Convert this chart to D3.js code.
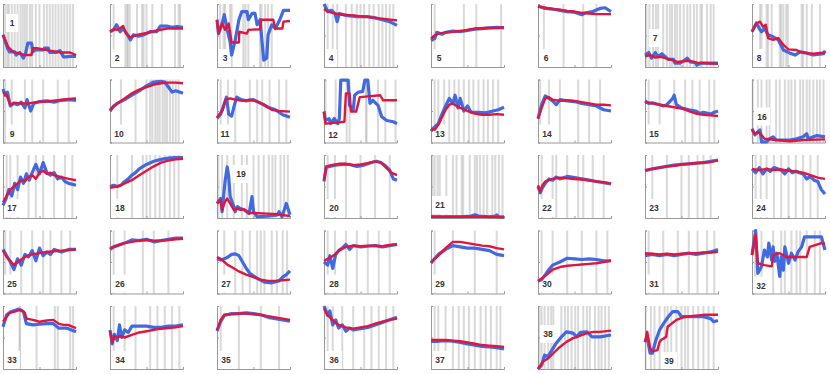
<!DOCTYPE html>
<html>
<head>
<meta charset="utf-8">
<script src="https://cdn.jsdelivr.net/npm/d3@7"></script>
<style>
  body { margin: 0; background: #fff; }
  svg { display: block; }
</style>
</head>
<body>
<div id="chart"></div>
<script>
// small multiples: blue vs red trace per panel, gray ticks = events
const width = 830;
const height = 374;
const cols = 8;
const cellW = 107, cellH = 75.5;
const plotW = 73, plotH = 63;
const origin = {left: 3, top: 4};

const panelIds = [1,2,3,4,5,6,7,8,9,10,11,12,13,14,15,16,17,18,19,20,
  21,22,23,24,25,26,27,28,29,30,31,32,33,34,35,36,37,38,39];

// flat lists: x0,y0, x1,y1, ... (x and y both 0..100)
const blueSeries = [
  [0,51, 6,30, 9,24, 16,24, 18,19, 23,23, 28,14, 31,22, 34,38, 39,38, 41,24, 44,27, 55,27, 57,30, 62,30, 64,23, 73,23, 78,26, 83,16, 87,16, 92,17, 100,17],
  [0,56, 5,59, 9,67, 14,56, 18,61, 23,53, 28,43, 32,51, 39,49, 46,51, 55,56, 64,56, 69,65, 78,65, 85,63, 92,64, 100,63],
  [0,75, 2,53, 7,69, 10,83, 14,59, 18,40, 20,19, 25,43, 30,75, 34,88, 41,88, 43,75, 48,85, 52,85, 55,67, 59,75, 64,11, 68,14, 70,51, 75,67, 80,61, 86,75, 91,90, 100,90],
  [0,100, 5,88, 10,90, 15,85, 18,72, 21,85, 30,82, 45,80, 60,80, 70,78, 80,75, 90,72, 100,66],
  [0,42, 5,45, 8,55, 15,52, 20,55, 30,57, 40,56, 50,58, 60,60, 70,61, 80,62, 90,63, 100,62],
  [0,97, 5,95, 10,93, 20,92, 30,90, 40,88, 50,87, 55,85, 60,83, 65,86, 75,88, 85,93, 92,94, 100,88],
  [0,19, 5,23, 9,14, 14,23, 18,16, 23,21, 28,16, 32,12, 39,12, 41,6, 48,6, 53,10, 58,14, 62,8, 69,7, 71,3, 76,6, 100,6],
  [0,56, 6,70, 10,61, 13,56, 17,61, 22,51, 29,48, 36,43, 43,27, 52,22, 59,19, 66,24, 75,22, 84,19, 98,21, 100,26],
  [0,85, 3,75, 6,80, 10,58, 15,62, 20,60, 25,64, 30,55, 33,68, 38,50, 42,62, 50,65, 60,66, 70,64, 80,67, 90,68, 100,67],
  [0,50, 5,58, 10,62, 20,68, 30,75, 40,82, 50,90, 60,96, 70,97, 75,96, 80,88, 85,80, 90,82, 100,78],
  [0,38, 5,45, 10,62, 13,72, 16,45, 20,42, 24,60, 27,72, 33,68, 40,66, 50,68, 60,62, 70,56, 80,52, 90,44, 100,40],
  [0,49, 2,35, 7,38, 9,30, 14,38, 19,30, 21,38, 23,99, 33,99, 35,59, 40,51, 42,75, 47,80, 53,81, 56,99, 60,99, 63,62, 67,67, 74,59, 79,41, 86,35, 95,33, 100,30],
  [0,18, 5,25, 10,30, 15,45, 20,58, 25,70, 30,62, 33,75, 37,55, 40,70, 45,50, 50,58, 55,48, 65,48, 75,47, 85,50, 92,52, 100,56],
  [0,38, 5,60, 10,74, 15,70, 20,66, 25,60, 30,68, 40,66, 50,65, 60,62, 70,60, 80,58, 90,52, 100,50],
  [0,66, 5,62, 10,63, 20,60, 25,58, 30,60, 38,70, 40,75, 43,60, 50,55, 60,52, 70,50, 75,46, 80,48, 90,45, 95,48, 100,50],
  [0,22, 4,12, 11,20, 13,1, 20,1, 24,6, 29,9, 33,4, 52,4, 61,6, 70,9, 75,14, 77,6, 84,9, 89,11, 100,9],
  [0,20, 4,30, 8,45, 12,35, 16,55, 20,45, 24,65, 28,55, 32,70, 36,60, 40,72, 45,85, 50,70, 55,88, 60,72, 65,68, 70,72, 75,62, 80,65, 85,58, 90,55, 100,52],
  [0,50, 5,52, 10,50, 15,52, 20,58, 25,62, 30,68, 35,72, 40,78, 50,85, 60,90, 70,93, 80,95, 90,96, 100,96],
  [0,23, 5,31, 7,10, 11,58, 14,81, 16,66, 18,34, 23,18, 25,10, 28,18, 32,15, 37,13, 44,7, 48,34, 50,10, 55,2, 69,3, 83,5, 85,10, 89,2, 95,23, 100,5],
  [0,58, 3,80, 8,82, 15,84, 25,85, 35,85, 45,82, 55,84, 65,88, 72,90, 78,88, 85,82, 90,76, 95,62, 100,60],
  [0,2, 20,2, 40,2, 55,3, 60,5, 65,3, 80,2, 88,3, 90,5, 93,2, 100,2],
  [0,50, 3,40, 6,48, 10,55, 15,62, 20,60, 25,65, 30,62, 40,66, 50,64, 60,62, 70,60, 80,58, 90,56, 100,54],
  [0,75, 10,78, 20,80, 30,82, 40,84, 50,85, 60,86, 70,87, 80,88, 90,90, 100,92],
  [0,78, 5,72, 10,80, 15,70, 20,78, 25,74, 30,80, 40,76, 45,70, 50,78, 55,72, 60,74, 70,70, 75,62, 80,66, 85,60, 90,58, 95,45, 100,38],
  [0,70, 5,60, 10,50, 15,38, 20,55, 25,45, 30,62, 35,58, 40,68, 45,52, 50,72, 55,60, 60,66, 65,62, 70,70, 80,66, 90,70, 100,70],
  [0,70, 5,74, 10,76, 20,80, 30,85, 40,84, 50,86, 60,82, 70,84, 80,86, 90,88, 100,88],
  [0,55, 5,53, 10,55, 15,58, 20,62, 25,63, 30,60, 35,50, 40,40, 45,32, 55,24, 65,18, 75,17, 85,20, 90,26, 95,30, 100,36],
  [0,50, 5,45, 8,60, 12,40, 16,62, 20,68, 25,72, 30,78, 35,70, 40,76, 50,74, 60,75, 70,76, 80,74, 90,76, 100,78],
  [0,48, 5,55, 10,62, 20,70, 30,76, 40,74, 50,72, 60,72, 70,70, 80,68, 90,62, 100,60],
  [0,20, 5,22, 10,30, 15,38, 20,45, 30,50, 40,56, 50,55, 60,54, 70,55, 80,54, 90,52, 100,52],
  [0,60, 10,62, 20,60, 30,62, 40,60, 50,62, 60,64, 70,62, 80,64, 90,66, 100,70],
  [0,61, 5,100, 8,32, 13,43, 17,69, 21,58, 23,80, 27,53, 29,74, 31,51, 34,64, 38,27, 40,58, 43,37, 45,74, 50,48, 54,64, 59,53, 63,66, 68,74, 72,90, 95,90, 100,69],
  [0,67, 5,86, 11,91, 21,95, 28,91, 32,72, 41,70, 50,71, 60,72, 69,72, 76,65, 87,65, 100,59],
  [0,62, 3,40, 6,55, 10,45, 13,70, 16,50, 20,62, 25,58, 30,68, 40,68, 50,68, 60,66, 70,66, 80,68, 90,68, 100,70],
  [0,60, 5,75, 10,85, 20,88, 30,88, 40,89, 50,88, 60,86, 70,82, 80,80, 90,78, 100,76],
  [0,100, 5,85, 8,92, 12,70, 16,78, 20,65, 25,70, 30,60, 35,65, 40,62, 50,64, 60,66, 70,70, 80,74, 90,78, 100,82],
  [0,44, 10,44, 20,45, 30,44, 40,42, 50,40, 60,38, 70,36, 80,35, 90,34, 100,32],
  [0,0, 5,6, 9,22, 14,20, 18,28, 25,41, 32,51, 39,59, 48,57, 53,51, 58,58, 67,59, 74,51, 85,51, 100,54],
  [0,43, 3,51, 7,25, 10,25, 15,46, 20,62, 27,75, 34,86, 38,91, 45,91, 50,83, 62,83, 80,83, 90,80, 94,75, 100,77]
];

const redSeries = [
  [0,51, 7,32, 14,24, 21,22, 30,19, 39,19, 41,30, 46,30, 60,27, 64,26, 76,24, 78,23, 92,23, 100,19],
  [0,56, 5,60, 11,59, 18,65, 22,53, 28,47, 37,51, 50,54, 64,58, 78,61, 92,61, 100,61],
  [0,75, 2,53, 7,69, 11,59, 16,69, 20,39, 30,39, 30.5,56, 41,53, 43,59, 59,60, 60.5,75, 77,75, 80,61, 89.5,61, 91,72, 100,73],
  [0,92, 5,88, 15,85, 25,83, 40,82, 55,80, 70,78, 85,76, 100,74],
  [0,45, 5,50, 10,53, 20,55, 30,56, 45,58, 60,61, 75,62, 90,62, 100,63],
  [0,96, 10,94, 20,92, 30,91, 40,89, 50,88, 60,86, 70,85, 80,84, 90,84, 100,84],
  [0,17, 7,19, 14,15, 21,16, 28,14, 37,11, 44,8, 60,10, 71,7, 85,6, 100,5],
  [0,56, 6,69, 11,72, 15,64, 19,67, 22,46, 29,43, 36,46, 38,43, 43,35, 50,28, 61,27, 66,24, 75,22, 84,21, 100,23],
  [0,80, 5,75, 10,60, 15,63, 25,62, 35,62, 45,64, 60,65, 75,67, 90,69, 100,70],
  [0,52, 10,62, 20,70, 30,78, 40,84, 50,88, 60,92, 70,94, 80,95, 90,95, 100,94],
  [0,40, 8,52, 12,68, 18,70, 25,68, 35,66, 45,68, 55,65, 65,60, 75,52, 85,50, 100,49],
  [0,49, 2,30, 28,33, 30,78, 35,78, 37,49, 44,49, 49,72, 77,75, 81,67, 100,67],
  [0,22, 5,20, 10,28, 15,40, 20,52, 25,60, 30,62, 35,58, 40,55, 50,50, 60,46, 70,44, 80,44, 90,45, 100,44],
  [0,38, 5,55, 10,70, 15,72, 20,68, 30,66, 40,67, 50,66, 60,64, 70,62, 80,60, 90,60, 100,59],
  [0,64, 10,62, 20,60, 30,58, 40,56, 50,54, 60,50, 70,46, 80,44, 90,43, 100,42],
  [0,20, 4,14, 8,17, 13,12, 17,6, 33,4, 52,2, 70,4, 100,5],
  [0,25, 5,35, 10,45, 15,50, 20,55, 25,60, 30,58, 35,65, 40,68, 45,62, 50,72, 55,75, 60,70, 65,72, 70,68, 80,65, 90,62, 100,60],
  [0,48, 10,50, 15,52, 20,55, 30,60, 40,68, 50,75, 60,82, 70,88, 80,91, 90,93, 100,94],
  [0,23, 5,29, 7,13, 11,26, 14,31, 18,23, 23,13, 28,15, 32,13, 37,14, 44,8, 50,8, 69,7, 83,6, 100,3],
  [0,60, 3,82, 10,84, 20,86, 30,86, 40,84, 50,85, 60,87, 70,90, 78,88, 85,80, 92,72, 100,68],
  [0,2, 25,2, 50,2, 75,2, 100,1],
  [0,52, 3,42, 6,52, 10,58, 15,60, 20,62, 30,64, 40,63, 50,62, 60,61, 70,60, 80,58, 90,57, 100,55],
  [0,76, 10,78, 20,80, 30,82, 40,83, 50,85, 60,86, 70,87, 80,88, 90,89, 100,91],
  [0,78, 10,76, 20,78, 30,76, 40,77, 50,75, 60,74, 70,72, 80,68, 90,64, 100,62],
  [0,68, 5,58, 10,52, 15,45, 20,50, 30,58, 40,62, 50,64, 60,66, 70,67, 80,68, 90,69, 100,70],
  [0,72, 10,76, 20,80, 30,82, 40,84, 50,85, 60,84, 70,84, 80,85, 90,86, 100,87],
  [0,58, 5,55, 10,50, 15,45, 20,42, 30,35, 40,30, 50,26, 60,22, 70,20, 80,20, 90,21, 100,22],
  [0,52, 5,55, 10,58, 15,62, 20,68, 30,74, 40,76, 50,75, 60,76, 70,76, 80,75, 90,77, 100,78],
  [0,50, 10,60, 20,72, 30,82, 40,82, 50,80, 60,78, 70,76, 80,75, 90,72, 100,70],
  [0,20, 10,28, 20,38, 30,42, 40,44, 50,45, 60,46, 70,47, 80,48, 90,50, 100,52],
  [0,64, 10,63, 20,62, 30,63, 40,62, 50,63, 60,64, 70,64, 80,65, 90,65, 100,66],
  [0,61, 5,93, 8,48, 17,45, 27,43, 29,61, 38,64, 47,58, 61,58, 75,58, 79,74, 95,80, 100,79],
  [0,75, 5,83, 9,89, 16,91, 21,93, 25,94, 30,89, 32,80, 41,78, 50,75, 60,77, 69,78, 76,72, 83,70, 89,70, 100,65],
  [0,60, 3,42, 6,52, 10,50, 15,52, 20,50, 30,54, 40,58, 50,60, 60,62, 70,64, 80,65, 90,66, 100,68],
  [0,62, 5,78, 10,86, 20,87, 30,88, 40,88, 50,87, 60,86, 70,84, 80,82, 90,80, 100,78],
  [0,96, 5,85, 10,80, 15,74, 20,70, 30,66, 40,64, 50,66, 60,68, 70,72, 80,75, 90,78, 100,80],
  [0,46, 10,46, 20,46, 30,45, 40,44, 50,42, 60,40, 70,38, 80,37, 90,36, 100,35],
  [0,0, 7,12, 14,17, 21,25, 30,35, 39,43, 48,49, 58,53, 67,57, 76,59, 85,59, 100,61],
  [0,43, 3,59, 7,33, 10,28, 17,30, 20,43, 22,46, 29,51, 31,67, 43,78, 52,82, 62,84, 80,86, 100,86]
];

// event times per panel (x, 0..100); repeated values read darker
const eventMarks = [
  [3,6,8,12,16,20,24,27,30,33,37,40,45,50,56,60,64,68,72,76,80,84,88,92,96],
  [5,21,24,24,27,37,44,46,50,58,71,89,94,96],
  [4,9,11,18,20,36,39,43,59,61,66,70,75],
  [5,12,18,30,38,45,50,55,62,68,75,80,85,90,95],
  [5,45,62,96],
  [8,35,62,80],
  [2,6,11,15,18,25,30,34,37,41,44,48,53,58,62,67,71,76,78,85,90,94],
  [11,13,20,22,27,38,40,43,47,49,68,70,75,82,93],
  [3,12,30,40,55,75,90],
  [15,35,50,55,58,62,65,68,72,75,78,82,86,90,94],
  [5,15,25,45,55,62,72,85,95],
  [2,16,31,35,58,58,74,84,98],
  [5,10,18,25,32,38,45,52,58,65,72,78,85,92],
  [3,15,30,55,70,85],
  [5,20,40,55,65,75,88,95],
  [1,8,13,20,24,33,38,45,50,54,59,66,70,75,79,84,89,93,98],
  [5,10,20,35,45,55,70,85,95],
  [10,30,45,50,55,62,68,75,82,88,94],
  [2,7,14,23,34,41,50,57,64,71,76,80,87,92,97],
  [5,15,30,50,70,90],
  [2,5,9,12,21,30,35,42,44,53,60,63,67,72,77,84,88,93,98],
  [5,20,25,40,55,62,75,90],
  [10,30,50,60,72,80,90],
  [5,12,20,30,40,50,60,70,80,90],
  [3,10,25,40,55,65,80,92],
  [5,20,45,60,80],
  [10,25,35,45,55,60,65,75,82,90,96],
  [5,15,30,45,60,75,90],
  [5,30,60,90],
  [5,20,40,60,80,95],
  [5,25,45,60,72,85,95],
  [4,13,29,40,45,54,61,66,75,86,93],
  [23,23,46,71,75,92,96],
  [5,20,35,55,65,75,85,95],
  [5,30,60,85],
  [5,12,25,40,55,65,75,85,95],
  [5,10,20,30,38,45,52,60,68,75,82,90,95],
  [2,5,9,14,18,21,32,37,41,46,51,55,62,67,71,78,83,87,92,97],
  [1,8,13,20,27,31,36,43,50,55,59,66,73,80,87,94]
];

// where each panel's number label sits (px from panel top-left)
const labelSpots = [
  [9,19],[7,54],[8,54],[7,54],[8,54],[8,54],[10,34],[7,54],
  [9,54],[9,54],[8,54],[9,55],[9,54],[9,54],[9,54],[10,37],
  [9,53],[10,53],[24,19],[10,53],[9,50],[9,53],[9,53],[9,53],
  [9,53],[10,53],[9,53],[10,53],[9,53],[9,53],[9,53],[9,55],
  [9,54],[10,54],[9,54],[10,54],[9,54],[10,28],[24,55]
];

const svg = d3.select("#chart")
  .append("svg")
  .attr("width", width)
  .attr("height", height);

const x = d3.scaleLinear().domain([0, 100]).range([0, plotW]);
const y = d3.scaleLinear().domain([0, 100]).range([plotH, 0]);

const toPts = flat => d3.range(0, flat.length, 2).map(k => [flat[k], flat[k + 1]]);
const line = d3.line().x(d => x(d[0])).y(d => y(d[1]));

panelIds.forEach((id, i) => {
  const col = i % cols, row = Math.floor(i / cols);
  const g = svg.append("g")
    .attr("transform", `translate(${origin.left + col * cellW},${origin.top + row * cellH})`);

  // gray event lines
  g.selectAll(".ev")
    .data(eventMarks[i])
    .enter()
    .append("line")
      .attr("x1", d => x(d)).attr("x2", d => x(d))
      .attr("y1", 0).attr("y2", plotH)
      .attr("stroke", "#b4b4b4")
      .attr("stroke-opacity", 0.5)
      .attr("stroke-width", 2);

  // label box
  const [lx, ly] = labelSpots[i];
  const bw = id < 10 ? 12 : 16;
  g.append("rect")
    .attr("x", lx - bw / 2).attr("y", ly - 9)
    .attr("width", bw).attr("height", 18)
    .attr("fill", "#fff");
  g.append("text")
    .attr("x", lx).attr("y", ly)
    .attr("text-anchor", "middle")
    .attr("dominant-baseline", "central")
    .attr("font-family", "Liberation Sans, Arial, sans-serif")
    .attr("font-size", "8.5px")
    .attr("font-weight", "bold")
    .attr("fill", "#333")
    .text(id);

  // axes
  const axL = g.append("g")
    .call(d3.axisLeft(y).tickValues([0, 50, 100]).tickSize(-2).tickFormat(""));
  const axB = g.append("g")
    .attr("transform", `translate(0,${plotH})`)
    .call(d3.axisBottom(x).tickValues([0, 50, 100]).tickSize(-2).tickFormat(""));
  [axL, axB].forEach(a => {
    a.selectAll("path, line").attr("stroke", "#999").attr("stroke-width", 1);
  });

  // traces
  g.append("path")
    .datum(toPts(blueSeries[i]))
    .attr("d", line)
    .attr("fill", "none")
    .attr("stroke", "#4169e1")
    .attr("stroke-width", 3.2)
    .attr("stroke-linejoin", "round");
  g.append("path")
    .datum(toPts(redSeries[i]))
    .attr("d", line)
    .attr("fill", "none")
    .attr("stroke", "#e0163f")
    .attr("stroke-width", 2.4)
    .attr("stroke-linejoin", "round");
});
</script>
</body>
</html>
